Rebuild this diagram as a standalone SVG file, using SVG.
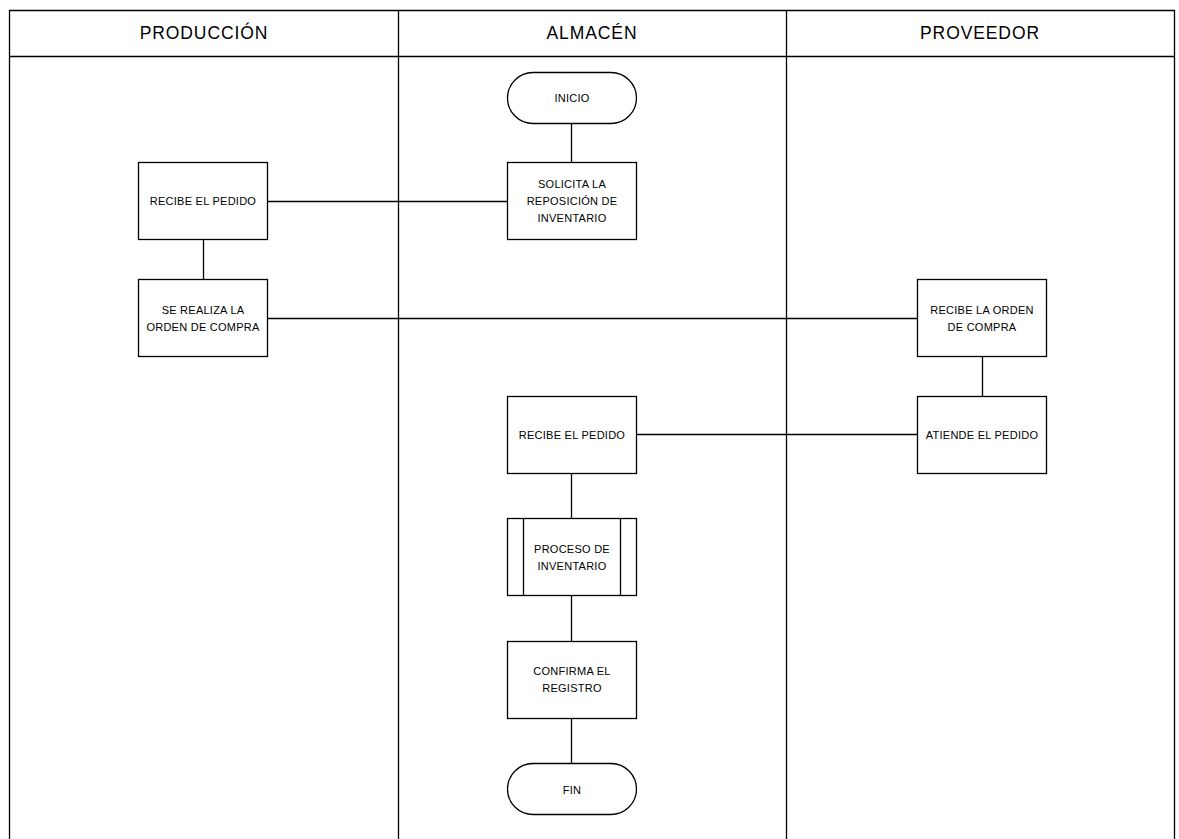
<svg xmlns="http://www.w3.org/2000/svg" width="1179" height="839" viewBox="0 0 1179 839">
<style>
.lane{fill:none;stroke:#000;stroke-width:1.3}
.box{fill:#fff;stroke:#000;stroke-width:1.3}
.edge{fill:none;stroke:#000;stroke-width:1.3}
.hdr{font-family:"Liberation Sans",Arial,sans-serif;font-size:17.5px;letter-spacing:0.9px;fill:#000;text-anchor:middle;dominant-baseline:central}
.t{font-family:"Liberation Sans",Arial,sans-serif;font-size:11px;letter-spacing:0.25px;fill:#000;text-anchor:middle;dominant-baseline:central}
</style>
<rect width="1179" height="839" fill="#fff"/>
<g id="lanes">
<path class="lane" d="M9.5 845V10.5H1174.5V845M9.5 56.5H1174.5M398.5 10.5V845M786.5 10.5V845"/>
<text class="hdr" x="204" y="33">PRODUCCIÓN</text>
<text class="hdr" x="592" y="33">ALMACÉN</text>
<text class="hdr" x="980" y="33">PROVEEDOR</text>
</g>
<g id="connectors">
<path class="edge" d="M571.5 123V162"/>
<path class="edge" d="M268 201.5H507"/>
<path class="edge" d="M203.5 240V279"/>
<path class="edge" d="M268 318.5H917"/>
<path class="edge" d="M982.5 357V396"/>
<path class="edge" d="M637 434.5H917"/>
<path class="edge" d="M571.5 473V518"/>
<path class="edge" d="M571.5 596V641"/>
<path class="edge" d="M571.5 718V763"/>
</g>
<g id="inicio">
<rect class="box" x="507.5" y="72.5" width="129" height="51" rx="25.5"/>
<text class="t" x="572" y="98">INICIO</text>
</g>
<g id="solicita">
<rect class="box" x="507.5" y="162.5" width="129" height="77"/>
<text class="t" x="572" y="184">SOLICITA LA</text>
<text class="t" x="572" y="201">REPOSICIÓN DE</text>
<text class="t" x="572" y="218">INVENTARIO</text>
</g>
<g id="recibe-pedido-prod">
<rect class="box" x="138.5" y="162.5" width="129" height="77"/>
<text class="t" x="203" y="201">RECIBE EL PEDIDO</text>
</g>
<g id="orden-compra">
<rect class="box" x="138.5" y="279.5" width="129" height="77"/>
<text class="t" x="203" y="310">SE REALIZA LA</text>
<text class="t" x="203" y="327">ORDEN DE COMPRA</text>
</g>
<g id="recibe-orden">
<rect class="box" x="917.5" y="279.5" width="129" height="77"/>
<text class="t" x="982" y="310">RECIBE LA ORDEN</text>
<text class="t" x="982" y="327">DE COMPRA</text>
</g>
<g id="atiende">
<rect class="box" x="917.5" y="396.5" width="129" height="77"/>
<text class="t" x="982" y="435">ATIENDE EL PEDIDO</text>
</g>
<g id="recibe-pedido-alm">
<rect class="box" x="507.5" y="396.5" width="129" height="77"/>
<text class="t" x="572" y="435">RECIBE EL PEDIDO</text>
</g>
<g id="proceso">
<rect class="box" x="507.5" y="518.5" width="129" height="77"/>
<path class="edge" d="M523.5 518.5V595.5M620.5 518.5V595.5"/>
<text class="t" x="572" y="549">PROCESO DE</text>
<text class="t" x="572" y="566">INVENTARIO</text>
</g>
<g id="confirma">
<rect class="box" x="507.5" y="641.5" width="129" height="77"/>
<text class="t" x="572" y="671">CONFIRMA EL</text>
<text class="t" x="572" y="688">REGISTRO</text>
</g>
<g id="fin">
<rect class="box" x="507.5" y="763.5" width="129" height="51" rx="25.5"/>
<text class="t" x="572" y="790">FIN</text>
</g>
</svg>
